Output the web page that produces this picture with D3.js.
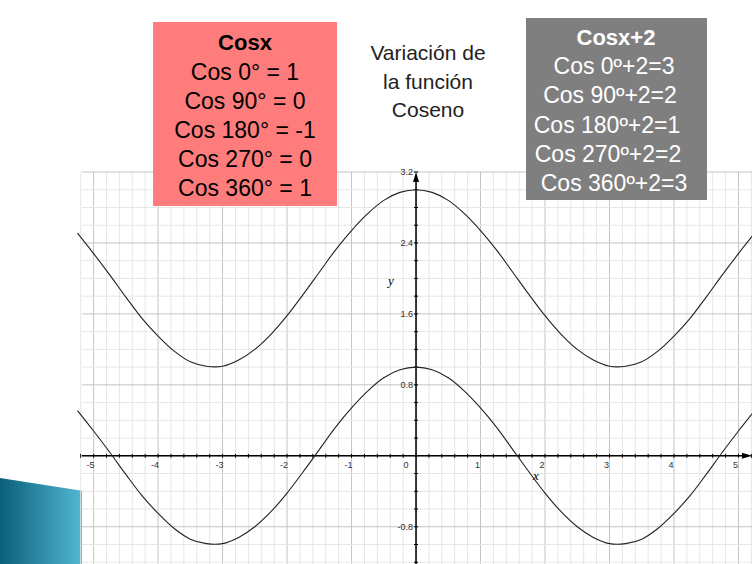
<!DOCTYPE html>
<html><head><meta charset="utf-8">
<script src="https://cdn.jsdelivr.net/npm/d3@7"></script>
<style>body{margin:0;background:#fff}svg{display:block}</style>
</head><body><svg width="752" height="564"></svg>
<script>
var xs = [-5.25,-5,-4.75,-4.5,-4.25,-4,-3.75,-3.5,-3.25,-3,-2.75,-2.5,-2.25,-2,-1.75,-1.5,-1.25,-1,-0.75,-0.5,-0.25,0,
  0.25,0.5,0.75,1,1.25,1.5,1.75,2,2.25,2.5,2.75,3,3.25,3.5,3.75,4,4.25,4.5,4.75,5,5.25];
var cosVals = [0.51,0.28,0.04,-0.21,-0.45,-0.65,-0.82,-0.94,-0.99,-0.99,-0.92,-0.80,-0.63,-0.42,-0.18,0.07,0.32,0.54,0.73,0.88,0.97,1,
  0.97,0.88,0.73,0.54,0.32,0.07,-0.18,-0.42,-0.63,-0.80,-0.92,-0.99,-0.99,-0.94,-0.82,-0.65,-0.45,-0.21,0.04,0.28,0.51];
var cos2Vals = [2.51,2.28,2.04,1.79,1.55,1.35,1.18,1.06,1.01,1.01,1.08,1.20,1.37,1.58,1.82,2.07,2.32,2.54,2.73,2.88,2.97,3,
  2.97,2.88,2.73,2.54,2.32,2.07,1.82,1.58,1.37,1.20,1.08,1.01,1.01,1.06,1.18,1.35,1.55,1.79,2.04,2.28,2.51];
var xTicks = [-5,-4,-3,-2,-1,0,1,2,3,4,5];
var yTicks = [-0.8,0.8,1.6,2.4,3.2];
var redLines = ["Cos 0° = 1","Cos 90° = 0","Cos 180° = -1","Cos 270° = 0","Cos 360° = 1"];
var grayLines = ["Cos 0º+2=3","Cos 90º+2=2","Cos 180º+2=1","Cos 270º+2=2","Cos 360º+2=3"];
var titleLines = ["Variación de","la función","Coseno"];

var svg = d3.select('svg');
var x = d3.scaleLinear().domain([-5.18, 5.21]).range([82, 752]);
var y = d3.scaleLinear().domain([3.2, -1.22]).range([172, 564]);

// decorative swoosh bottom-left
var grad = svg.append('defs').append('linearGradient').attr('id','g').attr('x1',0).attr('x2',1);
grad.append('stop').attr('offset',0).attr('stop-color','#0b5f7a');
grad.append('stop').attr('offset',1).attr('stop-color','#58c0dc');
svg.append('path').attr('d','M0,478 L90,492 L90,564 L0,564 Z').attr('fill','url(#g)');
svg.append('path').attr('d','M82,555 L300,560 L440,564 L82,564 Z').attr('fill','url(#g)').attr('opacity',0.7);
svg.append('path').attr('d','M270,558 L330,560 L360,564 L270,564 Z').attr('fill','#111');

var plot = svg.append('g');
plot.append('rect').attr('x',82).attr('y',172).attr('width',670).attr('height',392).attr('fill','#fff');
var xMinor = d3.range(-5.2, 5.25, 0.2), yMinor = d3.range(-1.2, 3.25, 0.2);
plot.selectAll('.vx').data(xMinor).enter().append('line')
  .attr('x1', d => x(d)).attr('x2', d => x(d)).attr('y1',172).attr('y2',564)
  .attr('stroke', d => Math.abs(d - Math.round(d)) < 0.01 ? '#c4c4c4' : '#e6e6e6').attr('stroke-width',1);
plot.selectAll('.hy').data(yMinor).enter().append('line')
  .attr('y1', d => y(d)).attr('y2', d => y(d)).attr('x1',82).attr('x2',752)
  .attr('stroke', d => Math.abs(d/0.8 - Math.round(d/0.8)) < 0.01 ? '#c4c4c4' : '#e6e6e6').attr('stroke-width',1);

// axes
plot.append('line').attr('x1',82).attr('x2',748).attr('y1',y(0)).attr('y2',y(0)).attr('stroke','#000').attr('stroke-width',1.5);
plot.append('line').attr('x1',x(0)).attr('x2',x(0)).attr('y1',176).attr('y2',564).attr('stroke','#000').attr('stroke-width',1.5);
plot.append('path').attr('d',`M${x(0)-3},${182} L${x(0)},172 L${x(0)+3},182 Z`);
plot.append('path').attr('d',`M742,${y(0)-3} L752,${y(0)} L742,${y(0)+3} Z`);
plot.selectAll('.tx').data(xMinor).enter().append('line')
  .attr('x1', d => x(d)).attr('x2', d => x(d)).attr('y1', y(0)-2).attr('y2', y(0)+2).attr('stroke','#000');
plot.selectAll('.ty').data(yMinor).enter().append('line')
  .attr('y1', d => y(d)).attr('y2', d => y(d)).attr('x1', x(0)-2).attr('x2', x(0)+2).attr('stroke','#000');
plot.selectAll('.lx').data(xTicks).enter().append('text')
  .attr('x', d => d === 0 ? x(d)-10 : x(d)-3).attr('y', y(0)+12).attr('text-anchor','middle')
  .attr('font-family','Arial, Liberation Sans').attr('font-size',9).attr('fill','#333').text(d => d);
plot.selectAll('.ly').data(yTicks).enter().append('text')
  .attr('x', x(0)-3).attr('y', d => y(d)+3).attr('text-anchor','end')
  .attr('font-family','Arial, Liberation Sans').attr('font-size',9).attr('fill','#333').text(d => d);
plot.append('text').attr('x',388).attr('y',285).attr('font-family','Liberation Serif').attr('font-style','italic').attr('font-size',13).text('y');
plot.append('text').attr('x',533).attr('y',480).attr('font-family','Liberation Serif').attr('font-style','italic').attr('font-size',13).text('x');

var line = d3.line().x((d,i) => x(xs[i])).y(d => y(d)).curve(d3.curveCatmullRom);
[cosVals, cos2Vals].forEach(function(vals) {
  plot.append('path').attr('d', line(vals)).attr('fill','none').attr('stroke','#222').attr('stroke-width',1.1);
});

// boxes
svg.append('rect').attr('x',153).attr('y',22).attr('width',184).attr('height',184).attr('fill','#ff7c7c');
svg.append('text').attr('x',245).attr('y',50).attr('text-anchor','middle').attr('font-family','Arial, Liberation Sans')
  .attr('font-size',22).attr('font-weight','bold').text('Cosx');
svg.selectAll('.rl').data(redLines).enter().append('text')
  .attr('x',245).attr('y',(d,i) => 80 + i*29).attr('text-anchor','middle')
  .attr('font-family','Arial, Liberation Sans').attr('font-size',23).text(d => d);

svg.append('rect').attr('x',526).attr('y',18).attr('width',181).attr('height',182).attr('fill','#7f7f7f');
svg.append('text').attr('x',616).attr('y',45).attr('text-anchor','middle').attr('font-family','Arial, Liberation Sans')
  .attr('font-size',22).attr('font-weight','bold').attr('fill','#fff').text('Cosx+2');
var gOff = [0,-4,-7,-6,0];
svg.selectAll('.gl').data(grayLines).enter().append('text')
  .attr('x',(d,i) => 614 + gOff[i]).attr('y',(d,i) => 74 + i*29.3).attr('text-anchor','middle')
  .attr('font-family','Arial, Liberation Sans').attr('font-size',23).attr('fill','#fff').text(d => d);

svg.selectAll('.tl').data(titleLines).enter().append('text')
  .attr('x',428).attr('y',(d,i) => 60 + i*28.5).attr('text-anchor','middle')
  .attr('font-family','Arial, Liberation Sans').attr('font-size',21).attr('fill','#222').text(d => d);
</script></body></html>
